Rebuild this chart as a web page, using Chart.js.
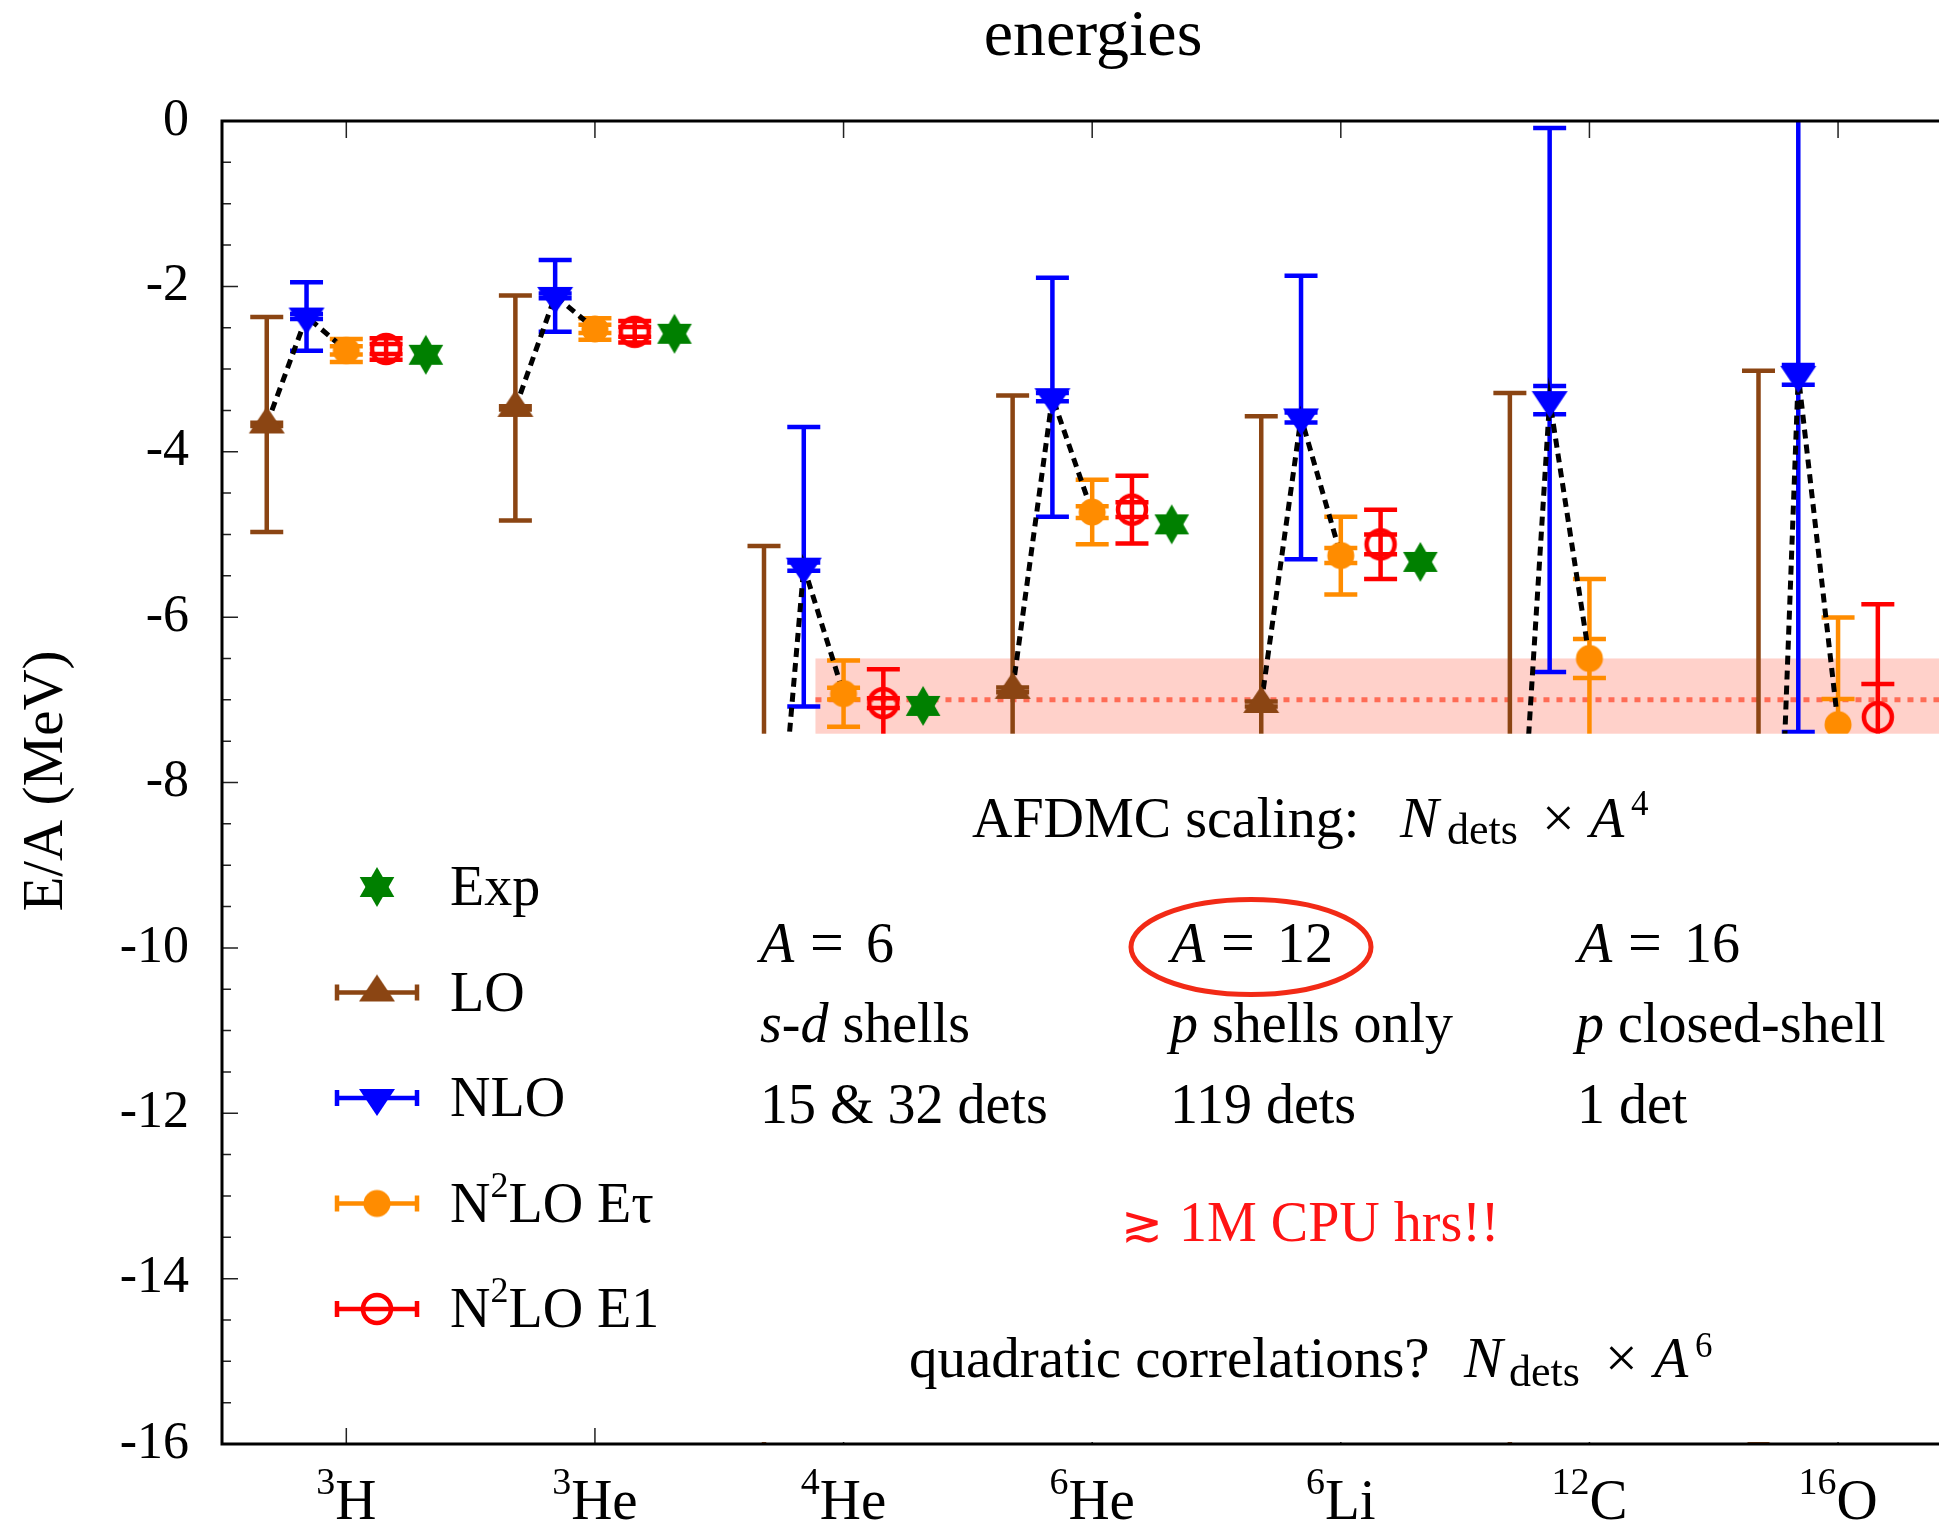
<!DOCTYPE html>
<html>
<head>
<meta charset="utf-8">
<script src="https://cdn.jsdelivr.net/npm/chart.js@4.4.1/dist/chart.umd.min.js"></script>
<style>
html,body{margin:0;padding:0;background:#fff;}
canvas{display:block;}
</style>
</head>
<body>
<canvas id="c" width="1952" height="1524"></canvas>
<script>
// ---------------- DATA ----------------
const massNumbers = ['3', '3', '4', '6', '6', '12', '16'];
const elements    = ['H', 'He', 'He', 'He', 'Li', 'C', 'O'];

const LO       = [-3.67, -3.47, -11.0, -6.88, -7.05, -11.05, -16.0];
const LO_err   = [1.30, 1.36, 5.86, 3.56, 3.48, 7.76, 12.98];
const LO_stat  = [0.02, 0.02, 0.05, 0.03, 0.03, 0.10, 0.20];

const NLO      = [-2.365, -2.115, -5.39, -3.34, -3.585, -3.375, -3.07];
const NLO_err  = [0.415, 0.435, 1.69, 1.445, 1.715, 3.29, 4.32];
const NLO_stat = [0.03, 0.03, 0.05, 0.05, 0.06, 0.17, 0.12];

const N2LO_Et      = [-2.775, -2.515, -6.925, -4.73, -5.255, -6.50, -7.30];
const N2LO_Et_err  = [0.14, 0.13, 0.40, 0.39, 0.47, 0.96, 1.295];
const N2LO_Et_stat = [0.05, 0.05, 0.07, 0.07, 0.09, 0.235, 0.31];

const N2LO_E1      = [-2.757, -2.55, -7.04, -4.70, -5.12, null, -7.21];
const N2LO_E1_err  = [0.13, 0.13, 0.41, 0.41, 0.42, null, 1.365];
const N2LO_E1_stat = [0.06, 0.06, 0.06, 0.09, 0.12, null, 0.40];

const Exp = [-2.827, -2.573, -7.074, -4.878, -5.332, null, null];

const yTickStep = 2;
const yMin = -16, yMax = 0;

// ---------------- STYLE / LAYOUT ----------------
const FONT = '"Liberation Serif", "DejaVu Serif", serif';
const RM = s => `${s}px ${FONT}`;
const IT = s => `italic ${s}px ${FONT}`;
const CAP = 16.5;

function mk(kind, color) {
  const c = document.createElement('canvas');
  const g = c.getContext('2d');
  if (kind === 'up' || kind === 'down') {
    const w = 36, h = 27;
    c.width = 40; c.height = 40;
    const cx = 20, cy = 20;
    g.fillStyle = color; g.beginPath();
    if (kind === 'up') { g.moveTo(cx, cy - 2*h/3); g.lineTo(cx + w/2, cy + h/3); g.lineTo(cx - w/2, cy + h/3); }
    else { g.moveTo(cx, cy + 2*h/3); g.lineTo(cx + w/2, cy - h/3); g.lineTo(cx - w/2, cy - h/3); }
    g.closePath(); g.fill();
  } else if (kind === 'dot') {
    c.width = c.height = 32; g.fillStyle = color; g.beginPath(); g.arc(16, 16, 13.5, 0, 2*Math.PI); g.fill();
  } else if (kind === 'ring') {
    c.width = c.height = 38; g.strokeStyle = color; g.lineWidth = 4.5; g.beginPath(); g.arc(19, 19, 14, 0, 2*Math.PI); g.stroke();
  } else if (kind === 'star') {
    c.width = c.height = 44; g.fillStyle = color; const R = 20;
    for (const a0 of [-90, 90]) {
      g.beginPath();
      for (let k = 0; k < 3; k++) {
        const a = (a0 + 120*k) * Math.PI / 180;
        const px = 22 + R*Math.cos(a), py = 22 + R*Math.sin(a);
        if (k) g.lineTo(px, py); else g.moveTo(px, py);
      }
      g.closePath(); g.fill();
    }
  }
  return c;
}

const series = [
  {label: 'LO',  vals: LO,      err: LO_err,      stat: LO_stat,      color: '#8B4513', offset: -0.32, marker: 'up'},
  {label: 'NLO', vals: NLO,     err: NLO_err,     stat: NLO_stat,     color: '#0000FF', offset: -0.16, marker: 'down'},
  {label: 'N2LO Et', vals: N2LO_Et, err: N2LO_Et_err, stat: N2LO_Et_stat, color: '#FF8C00', offset: 0, marker: 'dot'},
  {label: 'N2LO E1', vals: N2LO_E1, err: N2LO_E1_err, stat: N2LO_E1_stat, color: '#FF0000', offset: 0.16, marker: 'ring'},
  {label: 'Exp', vals: Exp, err: null, stat: null, color: '#008000', offset: 0.32, marker: 'star'}
];
series.forEach(s => s.img = mk(s.marker, s.color));

const X_MIN = -0.5, X_MAX = 6.406;
const BAND_X_START = 1.887, BAND_HI = -6.5, BAND_LO = -7.5, BAND_MID = -7.0;
const BOX_X_START = 1.284, BOX_TOP = -7.41;

const chainData = [];
massNumbers.forEach((m, i) => {
  chainData.push({x: i + series[0].offset, y: LO[i]});
  chainData.push({x: i + series[1].offset, y: NLO[i]});
  chainData.push({x: i + series[2].offset, y: N2LO_Et[i]});
  chainData.push({x: i + 0.5, y: null});
});

const datasets = [{
  label: 'chain', data: chainData, showLine: true, spanGaps: false,
  borderColor: '#000', borderWidth: 5, borderDash: [9, 6], borderCapStyle: 'butt', pointRadius: 0, order: 10
}];
series.forEach((s, k) => {
  datasets.push({
    label: s.label,
    data: s.vals.map((v, i) => ({x: i + s.offset, y: v})),
    pointStyle: s.img, pointRadius: 12, showLine: false, order: k
  });
});

const bgPlugin = {
  id: 'bg',
  beforeDatasetsDraw(chart) {
    const {ctx, chartArea: a, scales: {x, y}} = chart;
    ctx.save();
    ctx.beginPath(); ctx.rect(a.left, a.top, a.right - a.left, a.bottom - a.top); ctx.clip();
    const bx = x.getPixelForValue(BAND_X_START);
    const t = y.getPixelForValue(BAND_HI), b = y.getPixelForValue(BAND_LO);
    ctx.fillStyle = '#FFD1CA';
    ctx.fillRect(bx, t, a.right - bx, b - t);
    ctx.strokeStyle = '#FF6B55'; ctx.lineWidth = 5; ctx.setLineDash([6, 7]);
    const my = y.getPixelForValue(BAND_MID);
    ctx.beginPath(); ctx.moveTo(bx, my); ctx.lineTo(a.right, my); ctx.stroke();
    ctx.setLineDash([]);
    ctx.lineCap = 'butt';
    for (const s of series) {
      if (!s.err) continue;
      ctx.strokeStyle = s.color; ctx.lineWidth = 4.5;
      s.vals.forEach((v, i) => {
        if (v == null) return;
        const px = x.getPixelForValue(i + s.offset);
        const yt = y.getPixelForValue(v + s.err[i]), yb = y.getPixelForValue(v - s.err[i]);
        ctx.beginPath(); ctx.moveTo(px, yt); ctx.lineTo(px, yb);
        const caps = [yt, yb];
        if (s.stat && s.stat[i]) caps.push(y.getPixelForValue(v + s.stat[i]), y.getPixelForValue(v - s.stat[i]));
        for (const cy of caps) { ctx.moveTo(px - CAP, cy); ctx.lineTo(px + CAP, cy); }
        ctx.stroke();
      });
    }
    ctx.restore();
  }
};

function drawSegs(ctx, x, base, segs) {
  let cx = x;
  for (const s of segs) {
    if (s.at != null) cx = s.at;
    ctx.font = s.f;
    ctx.fillText(s.t, cx, base + (s.dy || 0));
    cx += ctx.measureText(s.t).width;
  }
}

const fgPlugin = {
  id: 'fg',
  afterDatasetsDraw(chart) {
    const {ctx, chartArea: a, scales: {x, y}} = chart;
    ctx.save();
    ctx.strokeStyle = '#222'; ctx.lineWidth = 1.5;
    ctx.beginPath();
    for (let k = 0; k <= (yMax - yMin) * 2; k++) {
      const v = yMax - k / 2;
      const py = y.getPixelForValue(v);
      const len = (k % 4 === 0) ? 16 : 9;
      ctx.moveTo(a.left, py); ctx.lineTo(a.left + len, py);
    }
    massNumbers.forEach((m, i) => {
      const px = x.getPixelForValue(i);
      ctx.moveTo(px, a.top); ctx.lineTo(px, a.top + 17);
      ctx.moveTo(px, a.bottom); ctx.lineTo(px, a.bottom - 16);
    });
    ctx.stroke();
    const bx = x.getPixelForValue(BOX_X_START);
    const bt = y.getPixelForValue(BOX_TOP);
    ctx.fillStyle = '#fff';
    ctx.fillRect(bx, bt, chart.width - bx, a.bottom - 2 - bt);
    ctx.strokeStyle = '#000'; ctx.lineWidth = 3;
    ctx.beginPath();
    ctx.moveTo(a.left, a.top); ctx.lineTo(a.right, a.top);
    ctx.moveTo(a.left, a.top - 1.5); ctx.lineTo(a.left, a.bottom + 1.5);
    ctx.moveTo(a.left, a.bottom); ctx.lineTo(a.right, a.bottom);
    ctx.stroke();
    ctx.restore();
  },
  afterDraw(chart) {
    const {ctx, chartArea: a, scales: {x, y}} = chart;
    ctx.save();
    ctx.fillStyle = '#000';
    ctx.textBaseline = 'alphabetic';
    ctx.font = RM(66); ctx.textAlign = 'center';
    ctx.fillText('energies', 1093, 55);
    ctx.save(); ctx.translate(62, 781); ctx.rotate(-Math.PI/2);
    ctx.font = RM(57); ctx.fillText('E/A (MeV)', 0, 0);
    ctx.restore();
    ctx.textAlign = 'left';
    massNumbers.forEach((m, i) => {
      const px = x.getPixelForValue(i);
      ctx.font = RM(38); const w1 = ctx.measureText(m).width;
      ctx.font = RM(57); const w2 = ctx.measureText(elements[i]).width;
      const x0 = px - (w1 + w2) / 2;
      ctx.font = RM(38); ctx.fillText(m, x0, 1494);
      ctx.font = RM(57); ctx.fillText(elements[i], x0 + w1, 1519);
    });
    const order = [4, 0, 1, 2, 3];
    const names = [
      [{t: 'Exp', f: RM(56)}],
      [{t: 'LO', f: RM(56)}],
      [{t: 'NLO', f: RM(56)}],
      [{t: 'N', f: RM(56)}, {t: '2', f: RM(36), dy: -25}, {t: 'LO E\u03C4', f: RM(56)}],
      [{t: 'N', f: RM(56)}, {t: '2', f: RM(36), dy: -25}, {t: 'LO E1', f: RM(56)}]
    ];
    order.forEach((si, r) => {
      const s = series[si];
      const ry = 887 + r * 105.5;
      if (s.err) {
        ctx.strokeStyle = s.color; ctx.lineWidth = 4.5;
        ctx.beginPath();
        ctx.moveTo(335, ry); ctx.lineTo(419, ry);
        ctx.moveTo(337, ry - 8); ctx.lineTo(337, ry + 8);
        ctx.moveTo(417, ry - 8); ctx.lineTo(417, ry + 8);
        ctx.stroke();
      }
      ctx.drawImage(s.img, 377 - s.img.width/2, ry - s.img.height/2);
      ctx.fillStyle = '#000';
      drawSegs(ctx, 450, ry + 18, names[r]);
    });
    ctx.fillStyle = '#000';
    drawSegs(ctx, 972, 837, [
      {t: 'AFDMC scaling:', f: RM(56)},
      {t: 'N', f: IT(58), at: 1400},
      {t: 'dets', f: RM(44), dy: 7, at: 1447},
      {t: '\u00D7', f: RM(58), at: 1542},
      {t: 'A', f: IT(56), at: 1590},
      {t: '4', f: RM(35), dy: -22, at: 1631}
    ]);
    const cols = [760, 1171, 1578];
    const nums = ['6', '12', '16'];
    cols.forEach((c, k) => {
      drawSegs(ctx, c, 962, [
        {t: 'A', f: IT(56)},
        {t: '=', f: RM(60), at: c + 50},
        {t: nums[k], f: RM(56), at: c + 106}
      ]);
    });
    drawSegs(ctx, 760, 1042, [{t: 's', f: IT(56)}, {t: '-', f: RM(56)}, {t: 'd', f: IT(56)}, {t: ' shells', f: RM(56)}]);
    drawSegs(ctx, 1170, 1042, [{t: 'p', f: IT(56)}, {t: ' shells only', f: RM(56)}]);
    drawSegs(ctx, 1576, 1042, [{t: 'p', f: IT(56)}, {t: ' closed-shell', f: RM(56)}]);
    drawSegs(ctx, 760, 1123, [{t: '15 & 32 dets', f: RM(56)}]);
    drawSegs(ctx, 1170, 1123, [{t: '119 dets', f: RM(56)}]);
    drawSegs(ctx, 1577, 1123, [{t: '1 det', f: RM(56)}]);
    ctx.strokeStyle = '#F22A16'; ctx.lineWidth = 5;
    ctx.beginPath(); ctx.ellipse(1251, 947, 120, 47.5, 0, 0, 2*Math.PI); ctx.stroke();
    ctx.fillStyle = '#FF1414';
    drawSegs(ctx, 1121, 1241, [{t: '\u2273', f: `50px "DejaVu Serif", ${FONT}`}, {t: '1M CPU hrs!!', f: RM(56), at: 1179}]);
    ctx.fillStyle = '#000';
    drawSegs(ctx, 909, 1377, [
      {t: 'quadratic correlations?', f: RM(57)},
      {t: 'N', f: IT(58), at: 1464},
      {t: 'dets', f: RM(44), dy: 9, at: 1509},
      {t: '\u00D7', f: RM(58), at: 1605},
      {t: 'A', f: IT(56), at: 1654},
      {t: '6', f: RM(35), dy: -20, at: 1695}
    ]);
    ctx.restore();
  }
};

new Chart(document.getElementById('c'), {
  type: 'scatter',
  data: {datasets},
  options: {
    responsive: false, animation: false, devicePixelRatio: 1, events: [],
    layout: {padding: {left: 0, right: 0, top: 121, bottom: 80}},
    plugins: {legend: {display: false}, title: {display: false}, tooltip: {enabled: false}},
    scales: {
      x: {type: 'linear', min: X_MIN, max: X_MAX, display: false},
      y: {
        type: 'linear', min: yMin, max: yMax,
        grid: {display: false, drawTicks: false},
        border: {display: false},
        ticks: {stepSize: yTickStep, padding: 33, color: '#000', font: {family: FONT, size: 52},
                callback: v => String(v)},
        afterFit: s => { s.width = 222; }
      }
    }
  },
  plugins: [bgPlugin, fgPlugin]
});
</script>
</body>
</html>
